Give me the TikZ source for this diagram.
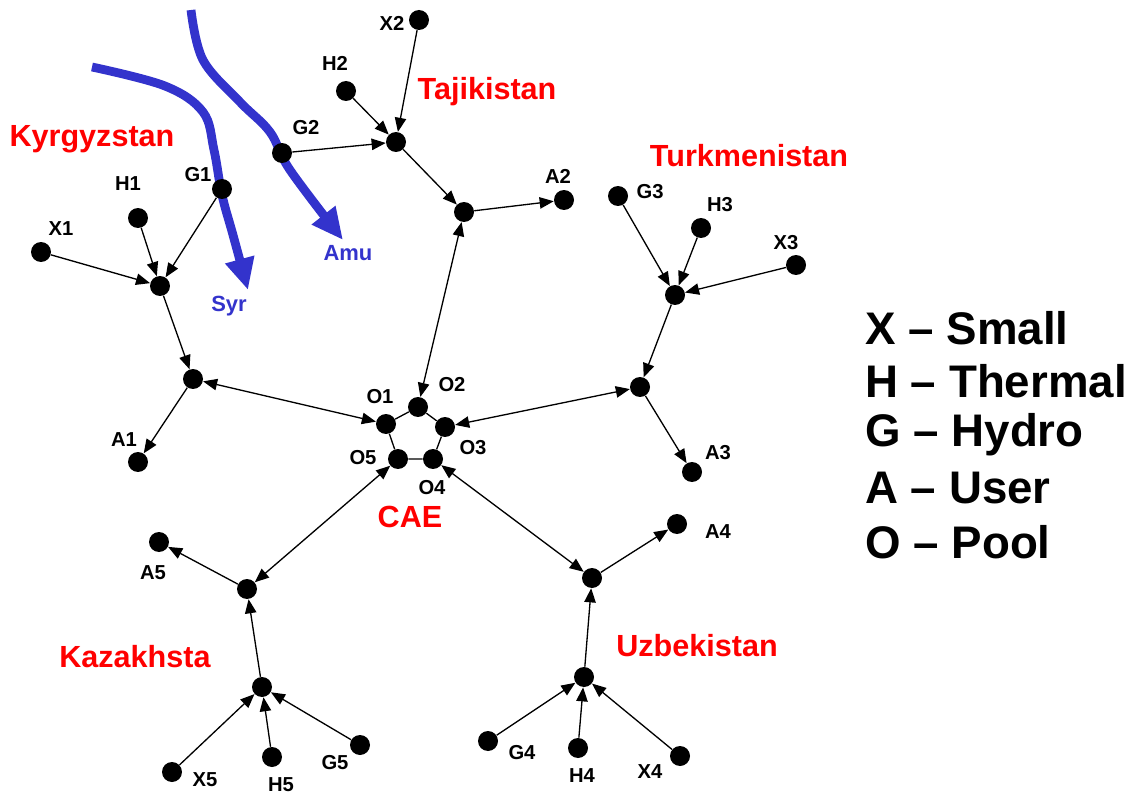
\documentclass[tikz,border=0pt]{standalone}
\usepackage{fontspec}
\setmainfont{Liberation Sans}
\usetikzlibrary{arrows.meta}
\definecolor{riverblue}{RGB}{51,51,204}
\definecolor{cred}{RGB}{255,0,0}
\begin{document}
\begin{tikzpicture}[x=0.02cm,y=-0.02cm,
 dot/.style={circle,fill=black,inner sep=0pt,minimum size=0.4cm},
 lbl/.style={font=\fontsize{11.5}{13}\selectfont\bfseries, inner sep=0pt},
 country/.style={font=\fontsize{17.4}{20}\selectfont\bfseries, text=cred, inner sep=0pt},
 legend/.style={font=\fontsize{26}{30}\selectfont\bfseries, anchor=west, inner sep=0pt},
 river/.style={line width=5pt, riverblue, -{Triangle[length=18pt,width=16pt]}},
 rlbl/.style={font=\fontsize{12.5}{14}\selectfont\bfseries, text=riverblue, inner sep=0pt},
 flow/.style={line width=0.75pt, -{Triangle[length=8pt,width=6.5pt]}},
 both/.style={line width=0.75pt, {Triangle[length=8pt,width=6.5pt]}-{Triangle[length=8pt,width=6.5pt]}},
 ring/.style={line width=0.75pt}]
\useasboundingbox (0,0) rectangle (1136,797);

% rivers
\draw[river] plot[smooth, tension=0.6] coordinates {(92,67) (165,86) (203,112) (214,150) (222,195) (233,235) (248,290)};
\draw[river] plot[smooth, tension=0.6] coordinates {(191,10) (203,60) (240,102) (270,132) (290,170) (343,240)};
\node[rlbl] (syr) at (229,306) {Syr};
\node[rlbl] (amu) at (348,253) {Amu};

% Kyrgyzstan
\node[dot] (G1) at (222,189) {};
\node[dot] (H1) at (138,218) {};
\node[dot] (X1) at (41,252) {};
\node[dot] (K1) at (160,286) {};
\node[dot] (M1) at (193,379) {};
\node[dot] (A1) at (138,462) {};
% Tajikistan
\node[dot] (X2) at (419,20) {};
\node[dot] (H2) at (346,91) {};
\node[dot] (G2) at (282,153) {};
\node[dot] (K2) at (396,142) {};
\node[dot] (M2) at (464,212) {};
\node[dot] (A2) at (564,200) {};
% Turkmenistan
\node[dot] (G3) at (618,196) {};
\node[dot] (H3) at (701,228) {};
\node[dot] (X3) at (796,265) {};
\node[dot] (K3) at (675,295) {};
\node[dot] (M3) at (640,387) {};
\node[dot] (A3) at (692,472) {};
% pool
\node[dot] (O1) at (386,424) {};
\node[dot] (O2) at (418,407) {};
\node[dot] (O3) at (445,427) {};
\node[dot] (O4) at (433,459) {};
\node[dot] (O5) at (398,459) {};
% Uzbekistan
\node[dot] (A4) at (677,524) {};
\node[dot] (K4) at (592,578) {};
\node[dot] (M4) at (584,677) {};
\node[dot] (G4) at (488,741) {};
\node[dot] (H4) at (578,748) {};
\node[dot] (X4) at (680,756) {};
% Kazakhstan
\node[dot] (A5) at (159,542) {};
\node[dot] (K5) at (247,589) {};
\node[dot] (M5) at (262,687) {};
\node[dot] (X5) at (172,772) {};
\node[dot] (H5) at (272,757) {};
\node[dot] (G5) at (360,745) {};

% labels
\node[lbl] (lG1) at (198,175) {G1};
\node[lbl] (lH1) at (128,184) {H1};
\node[lbl] (lX1) at (61,229) {X1};
\node[lbl] (lA1) at (124,440) {A1};
\node[lbl] (lG2) at (306,128) {G2};
\node[lbl] (lH2) at (335,63) {H2};
\node[lbl] (lX2) at (392,23) {X2};
\node[lbl] (lA2) at (558,176) {A2};
\node[lbl] (lG3) at (650,192) {G3};
\node[lbl] (lH3) at (720,205) {H3};
\node[lbl] (lX3) at (786,243) {X3};
\node[lbl] (lA3) at (718,453) {A3};
\node[lbl] (lO1) at (380,397) {O1};
\node[lbl] (lO2) at (452,385) {O2};
\node[lbl] (lO3) at (473,448) {O3};
\node[lbl] (lO4) at (432,488) {O4};
\node[lbl] (lO5) at (363,458) {O5};
\node[lbl] (lA4) at (718,532) {A4};
\node[lbl] (lG4) at (522,753) {G4};
\node[lbl] (lH4) at (582,776) {H4};
\node[lbl] (lX4) at (650,772) {X4};
\node[lbl] (lA5) at (153,573) {A5};
\node[lbl] (lX5) at (205,780) {X5};
\node[lbl] (lH5) at (281,785) {H5};
\node[lbl] (lG5) at (335,763) {G5};

% countries
\node[country] (kyr) at (92,139) {Kyrgyzstan};
\node[country] (taj) at (487,92) {Tajikistan};
\node[country] (tur) at (749,156) {Turkmenistan};
\node[country] (cae) at (410,517) {CAE};
\node[country] (uzb) at (697,646) {Uzbekistan};
\node[country] (kaz) at (135,657) {Kazakhsta};

% legend
\node[legend] (L1) at (865,328) {X – Small};
\node[legend] (L2) at (865,381) {H – Thermal};
\node[legend] (L3) at (865,435) {G – Hydro};
\node[legend] (L4) at (865,488) {A – User};
\node[legend] (L5) at (865,542) {O – Pool};

% edges
\draw[flow] (X1) -- (K1);
\draw[flow] (H1) -- (K1);
\draw[flow] (G1) -- (K1);
\draw[flow] (K1) -- (M1);
\draw[flow] (M1) -- (A1);
\draw[both] (M1) -- (O1);

\draw[flow] (X2) -- (K2);
\draw[flow] (H2) -- (K2);
\draw[flow] (G2) -- (K2);
\draw[flow] (K2) -- (M2);
\draw[flow] (M2) -- (A2);
\draw[both] (M2) -- (O2);

\draw[flow] (G3) -- (K3);
\draw[flow] (H3) -- (K3);
\draw[flow] (X3) -- (K3);
\draw[flow] (K3) -- (M3);
\draw[flow] (M3) -- (A3);
\draw[both] (M3) -- (O3);

\draw[both] (O4) -- (K4);
\draw[flow] (K4) -- (A4);
\draw[flow] (M4) -- (K4);
\draw[flow] (G4) -- (M4);
\draw[flow] (H4) -- (M4);
\draw[flow] (X4) -- (M4);

\draw[both] (O5) -- (K5);
\draw[flow] (K5) -- (A5);
\draw[flow] (M5) -- (K5);
\draw[flow] (X5) -- (M5);
\draw[flow] (H5) -- (M5);
\draw[flow] (G5) -- (M5);

\draw[ring] (O1) -- (O2) -- (O3) -- (O4) -- (O5) -- (O1);
\end{tikzpicture}
\end{document}
